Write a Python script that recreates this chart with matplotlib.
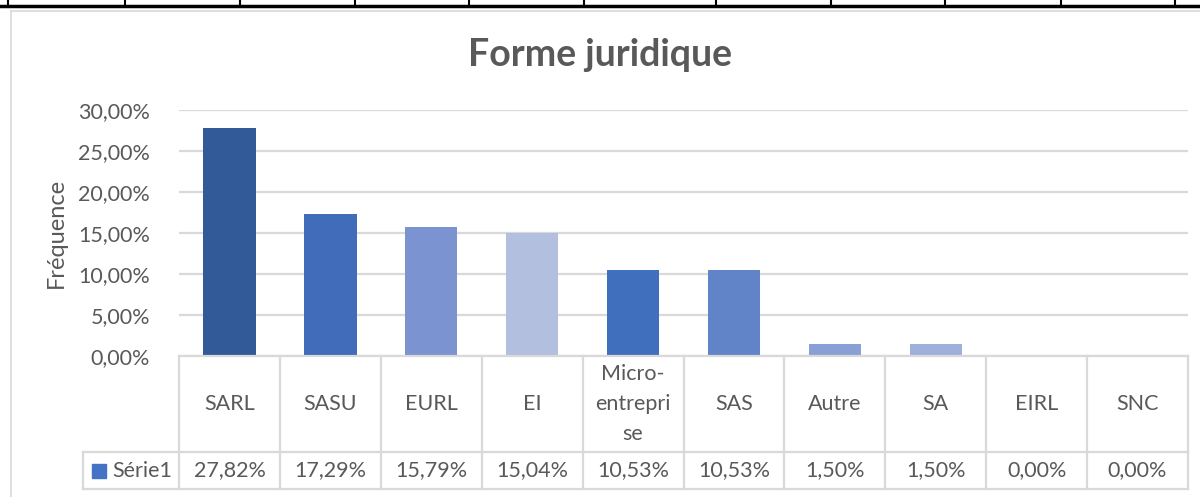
import matplotlib.pyplot as plt
from matplotlib.lines import Line2D
from matplotlib.transforms import blended_transform_factory

# font close to Calibri
plt.rcParams['font.family'] = ['Lato', 'DejaVu Sans']

categories = ['SARL', 'SASU', 'EURL', 'EI', 'Micro-\nentrepri\nse', 'SAS', 'Autre', 'SA', 'EIRL', 'SNC']
values = [27.82, 17.29, 15.79, 15.04, 10.53, 10.53, 1.50, 1.50, 0.00, 0.00]
bar_colors = ['#325A99', '#406CBA', '#7B93D0', '#B3BFDF', '#406FBE',
              '#6183C8', '#8A9FD5', '#A0B0DC', '#B8C4E3', '#C8D1EA']
series_name = 'Série1'
yticks = [0, 5, 10, 15, 20, 25, 30]

W, H = 1200, 497
txt = '#595959'
grid = '#D9D9D9'
fs = 15.5

fig = plt.figure(figsize=(W / 100, H / 100), dpi=100)

# spreadsheet cells peeking in at the top
fig.add_artist(Line2D([0, 1], [1 - 6 / H, 1 - 6 / H], color='black', lw=2.5))
for px in [8, 125, 240, 355, 469, 584, 716, 831, 945, 1061, 1175]:
    fig.add_artist(Line2D([px / W, px / W], [1 - 6 / H, 1], color='black', lw=1.5))

# chart frame (left + top edges visible)
fig.add_artist(Line2D([11 / W, 11 / W], [0, 1 - 11 / H], color=grid, lw=1.2))
fig.add_artist(Line2D([11 / W, 1], [1 - 11 / H, 1 - 11 / H], color=grid, lw=1.2))

left, right, top, bottom = 179, 1188, 110, 356
ax = fig.add_axes([left / W, 1 - bottom / H, (right - left) / W, (bottom - top) / H])

x = list(range(len(categories)))
ax.bar(x, values, width=0.52, color=bar_colors, zorder=3)

ax.set_xlim(-0.5, len(categories) - 0.5)
ax.set_ylim(0, 30)
ax.set_yticks(yticks)
ax.set_yticklabels([f'{t:.2f}%'.replace('.', ',') for t in yticks], fontsize=fs, color=txt)
ax.tick_params(axis='y', length=0, pad=21)
ax.set_xticks([])
for s in ax.spines.values():
    s.set_visible(False)
ax.yaxis.grid(True, color=grid, lw=1.6, zorder=0)
ax.set_axisbelow(True)

ax.set_ylabel('Fréquence', fontsize=17, color=txt, labelpad=8)
fig.text(0.5, 1 - 55 / H, 'Forme juridique', ha='center', va='center',
         fontsize=27, fontweight='bold', color=txt)

# data table below the plot
tr = blended_transform_factory(ax.transData, ax.transAxes)
row1 = -(452 - bottom) / (bottom - top)
row2 = -(489 - bottom) / (bottom - top)
leg_x = -0.5 - (left - 83) / ((right - left) / len(categories))
n = len(categories)

ax.plot([-0.5, n - 0.5], [0, 0], color=grid, lw=1.6, transform=tr, clip_on=False, zorder=4)
ax.plot([leg_x, n - 0.5], [row1, row1], color=grid, lw=1.6, transform=tr, clip_on=False)
ax.plot([leg_x, n - 0.5], [row2, row2], color=grid, lw=1.6, transform=tr, clip_on=False)
ax.plot([leg_x, leg_x], [row1, row2], color=grid, lw=1.6, transform=tr, clip_on=False)
for i in range(n + 1):
    ax.plot([i - 0.5, i - 0.5], [0, row2], color=grid, lw=1.6, transform=tr, clip_on=False)

for i, (c, v) in enumerate(zip(categories, values)):
    ax.text(i, row1 / 2, c, ha='center', va='center', fontsize=fs, color=txt,
            transform=tr, linespacing=1.6)
    ax.text(i, (row1 + row2) / 2, f'{v:.2f}%'.replace('.', ','), ha='center', va='center',
            fontsize=fs, color=txt, transform=tr)

# legend key in the table
ax.text(leg_x + 0.29, (row1 + row2) / 2, series_name, ha='left', va='center',
        fontsize=fs, color=txt, transform=tr)
ax.plot([leg_x + 0.16], [(row1 + row2) / 2], marker='s', ms=10, color='#4472C4',
        transform=tr, clip_on=False, lw=0)

fig.savefig('out.png', dpi=100, facecolor='white')
